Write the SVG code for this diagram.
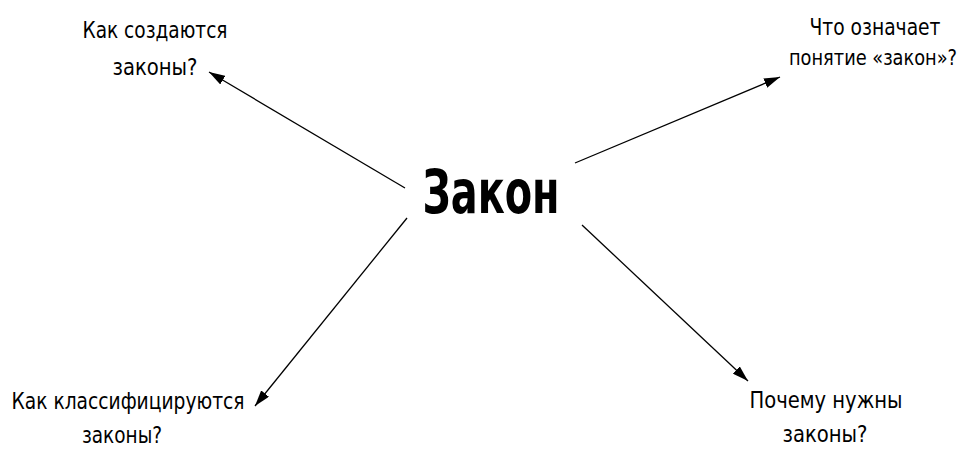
<svg xmlns="http://www.w3.org/2000/svg" width="970" height="450" viewBox="0 0 970 450">
<style>
.t{font-family:"DejaVu Sans Condensed","DejaVu Sans",sans-serif;font-size:22.5px;fill:#000;text-anchor:middle}
.c{font-family:"DejaVu Sans Condensed","DejaVu Sans",sans-serif;font-size:61px;font-weight:bold;fill:#000;text-anchor:middle}
.e{stroke:#000;stroke-width:1.3;fill:none;marker-end:url(#ah)}
</style>
<defs>
<marker id="ah" viewBox="0 0 16 10" refX="16" refY="5" markerWidth="16" markerHeight="10" markerUnits="userSpaceOnUse" orient="auto">
<path d="M0,0 L16,5 L0,10 Z" fill="#000"/>
</marker>
</defs>
<g id="connectors">
<line class="e" x1="405" y1="188" x2="209" y2="72"/>
<line class="e" x1="575" y1="163" x2="780" y2="77"/>
<line class="e" x1="407" y1="218" x2="255" y2="406"/>
<line class="e" x1="582" y1="225" x2="748" y2="381"/>
</g>
<g id="center"><text class="c" x="491" y="213" textLength="137" lengthAdjust="spacingAndGlyphs">Закон</text></g>
<g id="n1">
<text class="t" x="155" y="38" textLength="145" lengthAdjust="spacingAndGlyphs">Как создаются</text>
<text class="t" x="155" y="75" textLength="85" lengthAdjust="spacingAndGlyphs">законы?</text>
</g>
<g id="n2">
<text class="t" x="875" y="35" textLength="131" lengthAdjust="spacingAndGlyphs">Что означает</text>
<text class="t" x="957" y="65" textLength="168" lengthAdjust="spacingAndGlyphs" style="text-anchor:end;font-size:21.5px">понятие «закон»?</text>
</g>
<g id="n3">
<text class="t" x="128" y="409" textLength="233" lengthAdjust="spacingAndGlyphs">Как классифицируются</text>
<text class="t" x="122" y="443" textLength="80" lengthAdjust="spacingAndGlyphs">законы?</text>
</g>
<g id="n4">
<text class="t" x="826" y="408" textLength="153" lengthAdjust="spacingAndGlyphs">Почему нужны</text>
<text class="t" x="825" y="442" textLength="85" lengthAdjust="spacingAndGlyphs">законы?</text>
</g>
</svg>
